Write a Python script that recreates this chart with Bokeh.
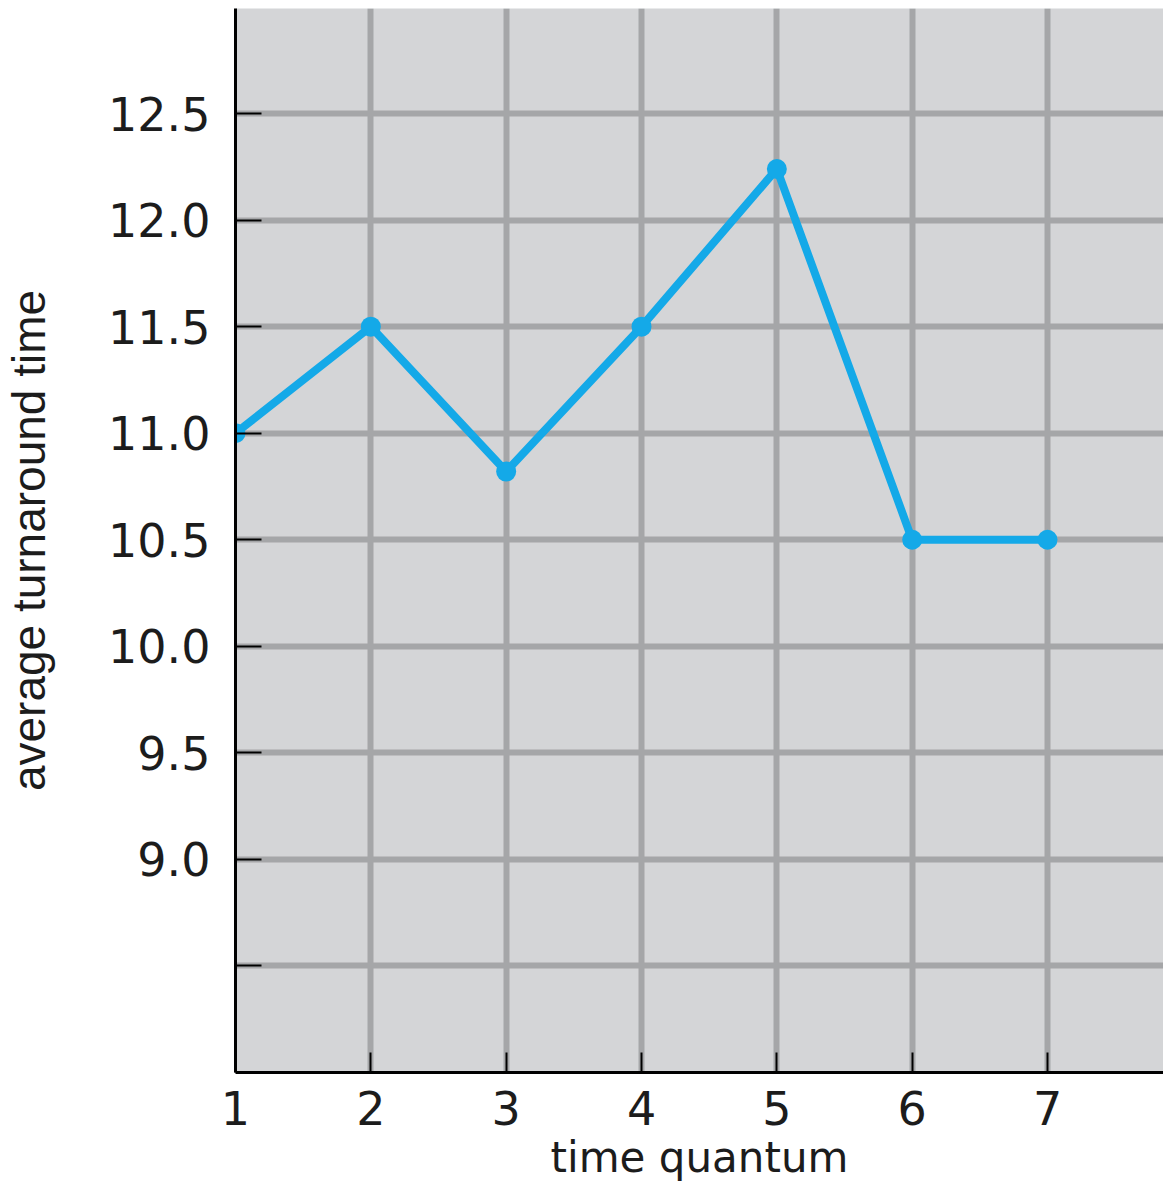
from bokeh.plotting import figure
from bokeh.models import FixedTicker, CustomJSTickFormatter
from bokeh.embed import file_html
from bokeh.resources import INLINE

time_quantum = [1, 2, 3, 4, 5, 6, 7]
avg_turnaround = [11.0, 11.5, 10.82, 11.5, 12.24, 10.5, 10.5]
x_ticks = [1, 2, 3, 4, 5, 6, 7, 8]
y_ticks = [8.5, 9.0, 9.5, 10.0, 10.5, 11.0, 11.5, 12.0, 12.5]
x_title = "time quantum"
y_title = "average turnaround time"

TICK_FONT = "DejaVu Sans"
LABEL_FONT = "Liberation Sans"
TEXT_COLOR = "#1c1c1c"

p = figure(width=1163, height=1185, x_range=(1, 7.857), y_range=(8, 12.993),
           output_backend="svg", toolbar_location=None,
           min_border_left=235, min_border_right=0, min_border_top=8, min_border_bottom=113)
p.outline_line_color = None
p.background_fill_color = "#d4d5d7"
p.border_fill_color = "white"

p.xaxis.ticker = FixedTicker(ticks=x_ticks)
p.yaxis.ticker = FixedTicker(ticks=y_ticks)
p.xaxis.major_label_overrides = {8: ""}
p.yaxis.formatter = CustomJSTickFormatter(code="return tick == 8.5 ? '' : tick.toFixed(1);")

for ax in (p.xaxis, p.yaxis):
    ax.axis_line_color = "black"
    ax.axis_line_width = 3
    ax.major_tick_line_color = "black"
    ax.major_tick_line_width = 2
    ax.major_tick_out = 0
    ax.minor_tick_line_color = None
    ax.major_label_text_font = TICK_FONT
    ax.major_label_text_font_size = "46px"
    ax.major_label_text_color = TEXT_COLOR
    ax.axis_label_text_font_style = "normal"
    ax.axis_label_text_color = TEXT_COLOR

p.yaxis.major_tick_in = 26
p.xaxis.major_tick_in = 20
p.yaxis.major_label_standoff = 25
p.xaxis.major_label_standoff = 18

p.yaxis.axis_label = y_title
p.yaxis.axis_label_text_font = LABEL_FONT
p.yaxis.axis_label_text_font_size = "46px"
p.yaxis.axis_label_standoff = 50

p.xaxis.axis_label = x_title
p.xaxis.axis_label_text_font = TICK_FONT
p.xaxis.axis_label_text_font_size = "42px"
p.xaxis.axis_label_standoff = 5

p.grid.grid_line_color = "#a5a6a8"
p.grid.grid_line_width = 6

p.line(time_quantum, avg_turnaround, line_color="#14a9e8", line_width=8)
p.scatter(time_quantum, avg_turnaround, size=20, fill_color="#14a9e8", line_color=None)

open("out.html", "w").write(file_html(p, INLINE))
